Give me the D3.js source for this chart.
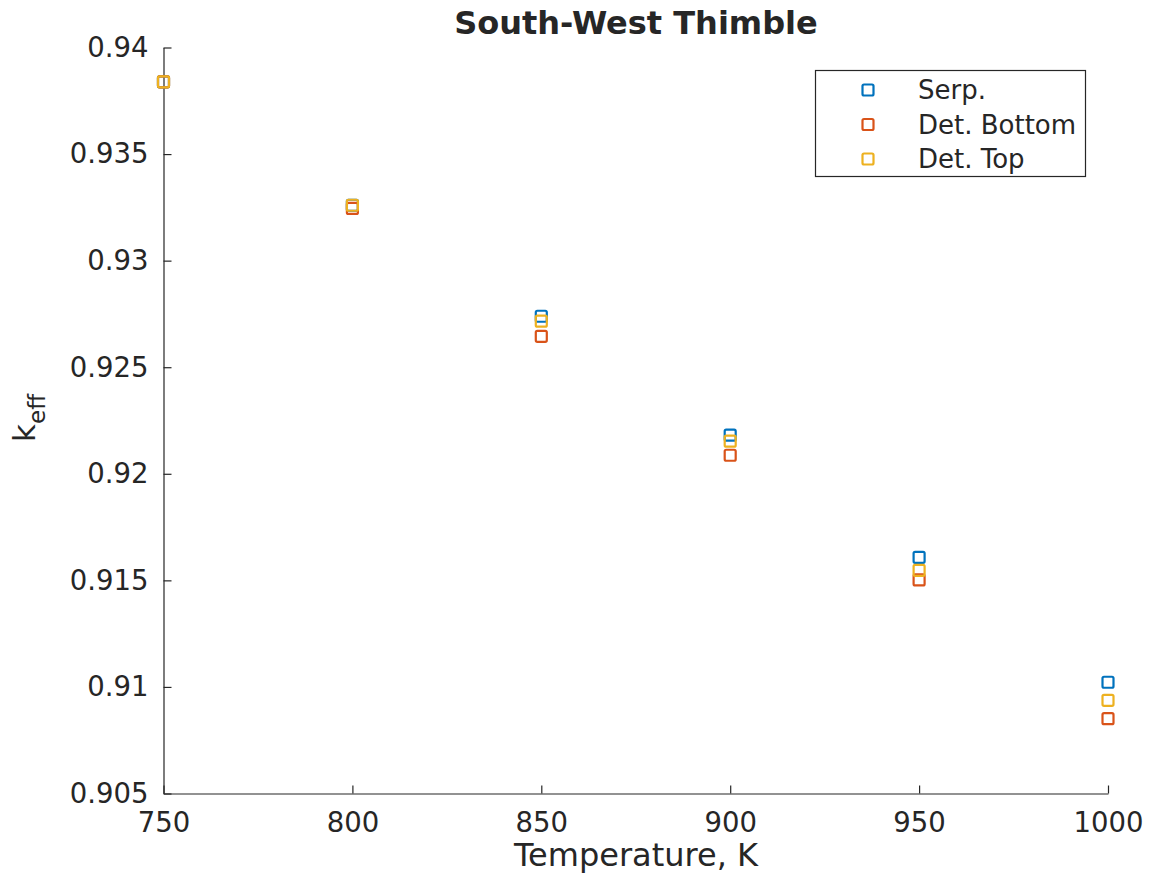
<!DOCTYPE html>
<html>
<head>
<meta charset="utf-8">
<script src="https://cdn.jsdelivr.net/npm/d3@7"></script>
<style>
  body { margin: 0; background: #fff; }
  text { font-family: "DejaVu Sans", sans-serif; fill: #262626; }
</style>
</head>
<body>
<div id="chart"></div>
<script>
const temps = [750, 800, 850, 900, 950, 1000];
const serp = [0.93839, 0.93260, 0.92739, 0.92181, 0.91608, 0.91022];
const detBottom = [0.93839, 0.93245, 0.92645, 0.92087, 0.91502, 0.90851];
const detTop = [0.93839, 0.93260, 0.92716, 0.92153, 0.91547, 0.90937];
const xTicks = [750, 800, 850, 900, 950, 1000];
const yTicks = [0.905, 0.91, 0.915, 0.92, 0.925, 0.93, 0.935, 0.94];

const series = [
    { name: "Serp.", values: serp, color: "#0072BD" },
    { name: "Det. Bottom", values: detBottom, color: "#D95319" },
    { name: "Det. Top", values: detTop, color: "#EDB120" }
];

const svgWidth = 1157, svgHeight = 886;
const margin = { top: 47.5, right: 49, bottom: 92.5, left: 163.5 };
const width = svgWidth - margin.left - margin.right;
const height = svgHeight - margin.top - margin.bottom;

const svg = d3.select("#chart")
    .append("svg")
    .attr("width", svgWidth)
    .attr("height", svgHeight);

const g = svg.append("g")
    .attr("transform", `translate(${margin.left},${margin.top})`);

const xScale = d3.scaleLinear().domain([750, 1000]).range([0, width]);
const yScale = d3.scaleLinear().domain([0.905, 0.94]).range([height, 0]);

// axes, ticks pointing inward like MATLAB
const xAxis = g.append("g")
    .attr("transform", `translate(0,${height})`)
    .call(d3.axisBottom(xScale).tickValues(xTicks).tickSizeInner(-8).tickSizeOuter(0).tickPadding(14)
        .tickFormat(d3.format("d")));
const yAxis = g.append("g")
    .call(d3.axisLeft(yScale).tickValues(yTicks).tickSizeInner(-8).tickSizeOuter(0).tickPadding(15)
        .tickFormat(d => String(+d.toFixed(3))));

[xAxis, yAxis].forEach(a => {
    a.select(".domain").attr("stroke", "#262626").attr("stroke-width", 1.2);
    a.selectAll(".tick line").attr("stroke", "#262626").attr("stroke-width", 1.2);
    a.selectAll(".tick text").style("font-size", "27.5px").attr("fill", "#262626");
});
xAxis.selectAll(".tick text").attr("dy", "0.9em");

// markers
const mSize = 11;
series.forEach(s => {
    g.append("g").selectAll("rect")
        .data(temps.map((t, i) => ({ x: t, y: s.values[i] })))
        .enter()
        .append("rect")
        .attr("x", d => xScale(d.x) - mSize / 2)
        .attr("y", d => yScale(d.y) - mSize / 2)
        .attr("width", mSize)
        .attr("height", mSize)
        .attr("rx", 1.5)
        .attr("fill", "none")
        .attr("stroke", s.color)
        .attr("stroke-width", 2.2);
});

// title and labels
svg.append("text")
    .attr("x", 636)
    .attr("y", 34)
    .attr("text-anchor", "middle")
    .style("font-size", "32px")
    .style("font-weight", "bold")
    .attr("fill", "#000")
    .text("South-West Thimble");

svg.append("text")
    .attr("x", 636)
    .attr("y", 866)
    .attr("text-anchor", "middle")
    .style("font-size", "32px")
    .text("Temperature, K");

const yl = svg.append("text")
    .attr("transform", "translate(35,418) rotate(-90)")
    .attr("text-anchor", "middle")
    .style("font-size", "31px");
yl.append("tspan").text("k");
yl.append("tspan").attr("dy", 10).style("font-size", "23px").text("eff");

// legend
const legend = svg.append("g");
legend.append("rect")
    .attr("x", 815.5).attr("y", 70.5)
    .attr("width", 270).attr("height", 106)
    .attr("fill", "#fff")
    .attr("stroke", "#262626")
    .attr("stroke-width", 1.2);

const legendY = d3.scalePoint().domain(series.map(s => s.name)).range([90, 159]);
series.forEach(s => {
    legend.append("rect")
        .attr("x", 868 - mSize / 2)
        .attr("y", legendY(s.name) - mSize / 2)
        .attr("width", mSize).attr("height", mSize)
        .attr("rx", 1.5)
        .attr("fill", "none")
        .attr("stroke", s.color)
        .attr("stroke-width", 2.2);
    legend.append("text")
        .attr("x", 918)
        .attr("y", legendY(s.name))
        .attr("dy", "0.36em")
        .style("font-size", "26px")
        .text(s.name);
});
</script>
</body>
</html>
